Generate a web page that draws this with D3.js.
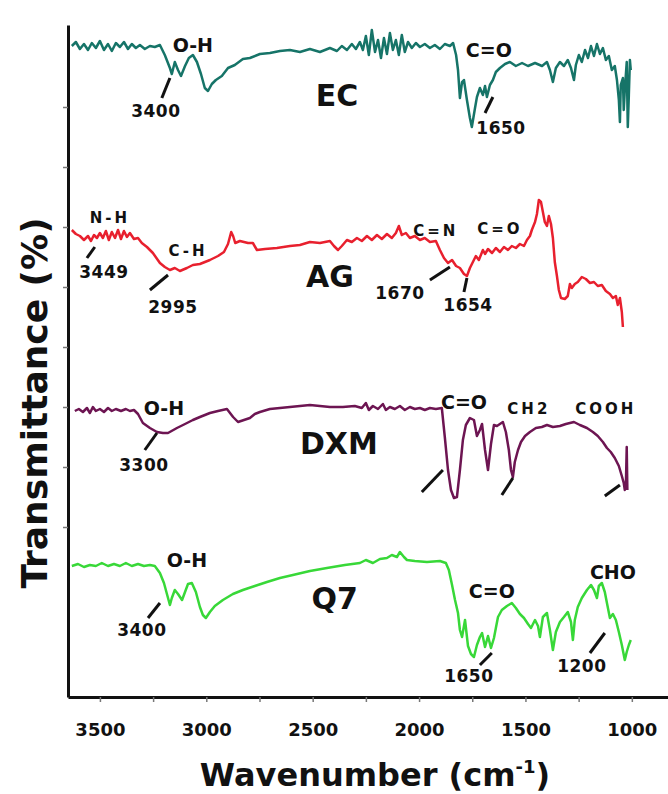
<!DOCTYPE html>
<html>
<head>
<meta charset="utf-8">
<script src="https://cdn.jsdelivr.net/npm/d3@7"></script>
<style>
  body { margin: 0; background: #fff; }
  svg text { font-family: "DejaVu Sans", sans-serif; font-weight: bold; fill: #111; }
</style>
</head>
<body>
<div id="chart"></div>
<script>
// samples, top to bottom
const samples = ['EC', 'AG', 'DXM', 'Q7'];
const sampleColors = ['#167468', '#e8202e', '#6d1552', '#38d838'];
// vertical shift of each spectrum (transmittance units)
const sampleOffsets = [226, 132.5, 44.5, -34];

const xTicks = [3500, 3250, 3000, 2750, 2500, 2250, 2000, 1750, 1500, 1250, 1000];
const xTickLabels = [3500, 3000, 2500, 2000, 1500, 1000];
const yTicks = [85, 115, 145, 175, 205, 235, 265, 295];

// [wavenumber, transmittance]
const ecSpectrum = [
  [3632,99.5],[3613,101.5],[3594,98],[3575,100.5],[3556,97.5],[3538,101],[3519,98.5],[3500,102],
  [3481,97.5],[3462,100.5],[3444,97],[3425,101],[3406,99],[3387,101.5],[3368,98],[3350,100.5],
  [3331,98.5],[3312,100],[3289,98],[3265,99.5],[3242,99],[3218,100],[3195,95],[3171,88.5],
  [3162,85.5],[3148,91.5],[3133,87.5],[3119,84.5],[3100,89.5],[3082,93.5],[3063,95],[3044,91.5],
  [3025,85.5],[3007,78.5],[2992,77],[2974,80.5],[2955,82.5],[2927,84.5],[2898,88.5],[2866,90],
  [2828,93],[2795,93.5],[2748,95.5],[2701,96],[2654,97],[2607,97.5],[2560,96.5],[2513,98],
  [2466,96.5],[2419,98.5],[2386,97],[2363,99.5],[2339,97.5],[2316,100.5],[2297,98],[2278,101.5],
  [2264,97.5],[2250,104.5],[2236,95],[2222,107.5],[2207,96.5],[2193,102.5],[2179,93.5],[2165,103.5],
  [2151,95.5],[2137,106],[2123,97.5],[2109,102.5],[2095,95],[2081,105],[2067,96.5],[2052,101.5],
  [2034,98.5],[2015,101],[1996,99],[1973,100.5],[1949,98.5],[1926,100],[1902,98],[1879,100.5],
  [1855,99.5],[1840,101],[1826,95],[1817,87.5],[1808,73.5],[1798,81.5],[1789,82.5],[1775,72.5],
  [1761,63.5],[1752,59],[1737,68.5],[1728,74],[1714,78.5],[1700,75],[1690,79.5],[1681,74],
  [1667,80],[1653,82.5],[1639,86.5],[1620,88.5],[1596,90.5],[1573,91.5],[1545,89.5],[1516,91],
  [1488,89.5],[1455,91],[1422,89.5],[1399,91.5],[1385,87.5],[1371,81.5],[1357,88.5],[1338,91.5],
  [1319,89.5],[1301,92.5],[1286,88.5],[1272,82.5],[1263,90],[1249,95],[1235,91.5],[1220,97.5],
  [1206,93.5],[1192,99.5],[1178,94.5],[1164,100.5],[1150,95.5],[1136,98.5],[1122,92.5],[1108,94.5],
  [1094,87.5],[1080,89.5],[1070,82.5],[1061,72.5],[1056,61.5],[1052,80],[1042,83.5],[1038,67.5],
  [1033,77.5],[1024,91.5],[1019,59],[1014,75],[1009,92.5],[1005,87.5]
];

const agSpectrum = [
  [3632,101],[3613,99],[3594,98],[3575,96],[3556,98],[3542,95.5],[3528,98.5],[3514,97],
  [3500,99.5],[3486,97],[3472,100.5],[3458,96],[3444,100],[3429,97],[3415,101],[3401,96.5],
  [3387,100.5],[3373,97.5],[3359,99.5],[3340,96.5],[3321,97],[3303,94.5],[3279,92.5],[3251,89.5],
  [3218,84.5],[3195,82.5],[3171,81],[3148,82],[3124,80.5],[3091,82],[3063,83.5],[3030,84],
  [2983,86],[2945,88],[2917,90],[2898,94],[2883,100],[2874,98],[2864,94.5],[2842,95.5],
  [2804,94.5],[2781,94.5],[2762,91],[2724,91.5],[2668,92],[2607,93],[2560,93.5],[2513,95],
  [2466,94.5],[2419,95.5],[2400,93],[2381,91],[2363,93],[2339,96],[2316,95],[2292,97],
  [2269,95.5],[2245,98],[2222,96],[2198,98.5],[2175,96.5],[2151,99],[2128,97],[2109,99.5],
  [2095,103],[2081,98.5],[2062,99.5],[2043,97],[2020,98],[1996,96],[1973,97],[1949,95],
  [1921,95.5],[1902,91],[1883,87],[1864,84.5],[1845,86],[1826,83],[1808,82],[1789,79],
  [1775,78],[1761,82],[1747,85],[1733,88],[1719,86],[1700,91],[1690,89],[1676,91.5],
  [1657,89.5],[1639,92],[1620,90],[1601,92.5],[1582,91],[1564,93],[1545,92],[1526,94],
  [1507,93],[1493,96],[1479,98],[1470,101],[1455,105],[1446,109],[1437,116],[1427,115],
  [1418,110],[1409,105],[1399,103],[1390,108],[1380,104],[1371,97],[1362,85],[1352,78],
  [1343,71],[1333,67],[1315,66.5],[1301,68],[1291,74],[1282,72],[1268,74],[1254,75],
  [1235,77.5],[1216,76.5],[1197,74.5],[1178,75],[1160,73],[1141,73.5],[1122,70.5],[1103,69],
  [1089,67],[1075,68],[1066,63.5],[1056,67],[1047,60],[1042,52.5]
];

const dxmSpectrum = [
  [3618,98.5],[3599,99.5],[3580,98],[3561,100],[3547,97.5],[3533,100.5],[3519,98.5],[3500,99.5],
  [3481,98],[3462,100],[3444,98.5],[3425,99.5],[3401,98.5],[3378,99.5],[3359,98.5],[3340,99],
  [3321,97],[3298,92.5],[3265,90],[3232,88],[3204,87.5],[3180,87.5],[3138,90],[3100,92],
  [3063,94],[3030,95.5],[2983,97.5],[2945,98.5],[2903,99.5],[2874,95.5],[2851,93],[2823,94],
  [2795,95],[2772,97],[2748,98],[2701,99.5],[2654,100],[2607,100.5],[2560,101],[2513,101.5],
  [2466,101],[2419,100.5],[2358,100.5],[2302,101],[2269,100],[2250,102.5],[2236,99],[2217,101],
  [2193,99.5],[2170,102],[2156,99],[2137,100.5],[2114,99.5],[2090,101],[2067,99],[2043,100.5],
  [2020,99.5],[1996,100],[1973,99],[1949,100],[1921,99.5],[1893,100],[1879,85.5],[1864,69],
  [1850,59],[1836,55],[1822,55.5],[1808,69],[1794,84],[1780,91.5],[1761,95],[1742,94],
  [1728,86],[1714,89],[1704,92],[1690,79],[1676,69],[1662,82],[1648,91.5],[1634,91],
  [1620,92],[1606,93],[1592,88],[1578,79],[1568,69],[1559,65.5],[1550,73],[1535,79],
  [1521,83],[1502,86],[1479,88],[1451,90],[1423,90.5],[1399,91.5],[1371,90.5],[1338,91],
  [1310,92],[1272,93],[1244,91.5],[1211,90],[1183,88],[1160,86],[1136,83],[1117,80],
  [1099,78],[1080,75],[1061,71],[1047,66],[1038,62.5],[1033,59],[1028,61],[1024,80.5],[1021,59]
];

const q7Spectrum = [
  [3632,99.5],[3603,100.5],[3575,99],[3547,100],[3519,99.5],[3491,101],[3462,99.5],[3434,100.5],
  [3406,99.5],[3378,101],[3350,99.5],[3321,100.5],[3293,99.5],[3265,100],[3242,99.5],[3218,96],
  [3199,91],[3185,85.5],[3171,80],[3162,83.5],[3148,87.5],[3133,85.5],[3114,82.5],[3100,86.5],
  [3086,90.5],[3068,91],[3049,86.5],[3030,79],[3016,75],[3002,73.5],[2983,76.5],[2960,79.5],
  [2922,82.5],[2875,85.5],[2828,87.5],[2772,89.5],[2715,91.5],[2654,93.5],[2593,95],[2513,97],
  [2433,98.5],[2349,100],[2278,101],[2250,102.5],[2217,101],[2184,103],[2151,103.5],[2128,105],
  [2104,104],[2090,106.5],[2071,104],[2057,102.5],[2020,102],[1963,101.5],[1902,102],[1874,101],
  [1860,97.5],[1845,90],[1831,82.5],[1817,76],[1808,67.5],[1798,64],[1784,72.5],[1770,59.5],
  [1756,55.5],[1742,54],[1728,60],[1714,64],[1704,66],[1690,59],[1676,64.5],[1662,58.5],
  [1648,63.5],[1639,68.5],[1629,74],[1611,77.5],[1587,79.5],[1564,81],[1545,78.5],[1526,75.5],
  [1507,73.5],[1488,70.5],[1474,68.5],[1455,72.5],[1441,69.5],[1432,64],[1418,74],[1399,76],
  [1385,67.5],[1371,57.5],[1357,66.5],[1338,71.5],[1319,74],[1301,76.5],[1286,71.5],[1277,62.5],
  [1268,72.5],[1254,79],[1235,83.5],[1211,87.5],[1192,90],[1178,87.5],[1164,83.5],[1155,89.5],
  [1141,91],[1127,86.5],[1117,81],[1103,73.5],[1089,75.5],[1075,72.5],[1061,66.5],[1047,60],
  [1033,52.5],[1024,56.5],[1014,60],[1005,62.5]
];

// band labels: text, wavenumber, transmittance (relative to its spectrum), kind
const ecLabels = [
  ['O-H', 3063, 100, 'group'], ['3400', 3237, 67, 'peak'], ['C=O', 1672, 97.5, 'group'],
  ['1650', 1615, 58.5, 'peak'], ['EC', 2386, 75, 'name']
];
const agLabels = [
  ['N-H', 3453, 107, 'spaced'], ['3449', 3481, 80, 'peak'], ['C-H', 3086, 90.5, 'spaced'],
  ['2995', 3157, 62.5, 'peak'], ['AG', 2419, 78, 'name'], ['C=N', 1921, 100.5, 'spaced'],
  ['C=O', 1620, 101.5, 'spaced'], ['1670', 2090, 69.5, 'peak'], ['1654', 1770, 63.5, 'peak']
];
const dxmLabels = [
  ['O-H', 3199, 100, 'group'], ['3300', 3293, 71.5, 'peak'], ['DXM', 2377, 82.5, 'name'],
  ['C=O', 1789, 103, 'group'], ['CH2', 1484, 99.5, 'spaced'], ['COOH', 1122, 99.5, 'spaced']
];
const q7Labels = [
  ['O-H', 3091, 102.5, 'group'], ['3400', 3303, 67.5, 'peak'], ['Q7', 2396, 83.5, 'name'],
  ['C=O', 1658, 87, 'group'], ['1650', 1766, 44.5, 'peak'], ['CHO', 1089, 96.5, 'group'],
  ['1200', 1235, 49.5, 'peak']
];

// pointer lines: [wn1, t1, wn2, t2]
const ecLeaders = [[3171, 83.5, 3209, 73.5], [1653, 74, 1690, 66]];
const agLeaders = [[3524, 92.5, 3561, 87], [3180, 78.5, 3265, 71], [1855, 82.5, 1949, 76], [1775, 77, 1789, 70]];
const dxmLeaders = [[3232, 87.5, 3289, 79], [1888, 69, 1987, 58], [1559, 65, 1611, 56.5], [1056, 61.5, 1127, 56]];
const q7Leaders = [[3218, 81, 3274, 73.5], [1658, 56, 1714, 50], [1127, 66, 1197, 56]];

const spectra = [ecSpectrum, agSpectrum, dxmSpectrum, q7Spectrum];
const labelSets = [ecLabels, agLabels, dxmLabels, q7Labels];
const leaderSets = [ecLeaders, agLeaders, dxmLeaders, q7Leaders];

const width = 668, height = 794;
const svg = d3.select('#chart').append('svg')
  .attr('width', width)
  .attr('height', height);

const x = d3.scaleLinear().domain([3650, 830]).range([68, 668]);
const y = d3.scaleLinear().domain([0, 336]).range([697, 25]);

const labelStyle = {
  group: {size: 19, spacing: 0},
  peak: {size: 17, spacing: 0.5},
  spaced: {size: 15, spacing: 3},
  name: {size: 30, spacing: 0}
};

samples.forEach((name, i) => {
  const off = sampleOffsets[i];
  const line = d3.line()
    .x(d => x(d[0]))
    .y(d => y(d[1] + off));

  svg.append('path')
    .attr('d', line(spectra[i]))
    .attr('fill', 'none')
    .attr('stroke', sampleColors[i])
    .attr('stroke-width', 2.5)
    .attr('stroke-linejoin', 'round');

  leaderSets[i].forEach(l => {
    svg.append('line')
      .attr('x1', x(l[0])).attr('y1', y(l[1] + off))
      .attr('x2', x(l[2])).attr('y2', y(l[3] + off))
      .attr('stroke', '#111')
      .attr('stroke-width', 3);
  });

  labelSets[i].forEach(l => {
    const st = labelStyle[l[3]];
    svg.append('text')
      .attr('x', x(l[1]))
      .attr('y', y(l[2] + off))
      .attr('text-anchor', 'middle')
      .attr('dominant-baseline', 'central')
      .style('font-size', st.size + 'px')
      .style('letter-spacing', st.spacing + 'px')
      .text(l[0]);
  });
});

// axes
const xAxis = d3.axisBottom(x)
  .tickValues(xTicks)
  .tickFormat(d => xTickLabels.includes(d) ? d : '')
  .tickSize(5)
  .tickSizeOuter(0)
  .tickPadding(21);
const gx = svg.append('g')
  .attr('transform', 'translate(0,697)')
  .call(xAxis);
gx.select('.domain').attr('stroke', '#111').attr('stroke-width', 3);
gx.selectAll('.tick line').attr('stroke', '#777').attr('stroke-width', 1.5);
gx.selectAll('.tick text').style('font-size', '18px').attr('fill', '#111');

const yAxis = d3.axisLeft(y)
  .tickValues(yTicks)
  .tickFormat('')
  .tickSize(5)
  .tickSizeOuter(0);
const gy = svg.append('g')
  .attr('transform', 'translate(68,0)')
  .call(yAxis);
gy.select('.domain').attr('stroke', '#111').attr('stroke-width', 3);
gy.selectAll('.tick line').attr('stroke', '#777').attr('stroke-width', 1.5);

// axis titles
const xt = svg.append('text')
  .attr('x', 375)
  .attr('y', 786)
  .attr('text-anchor', 'middle')
  .style('font-size', '32px');
xt.append('tspan').text('Wavenumber (cm');
xt.append('tspan').attr('dy', -13).style('font-size', '18px').text('-1');
xt.append('tspan').attr('dy', 13).text(')');

svg.append('text')
  .attr('transform', 'translate(47,403) rotate(-90)')
  .attr('text-anchor', 'middle')
  .style('font-size', '36px')
  .text('Transmittance (%)');
</script>
</body>
</html>
